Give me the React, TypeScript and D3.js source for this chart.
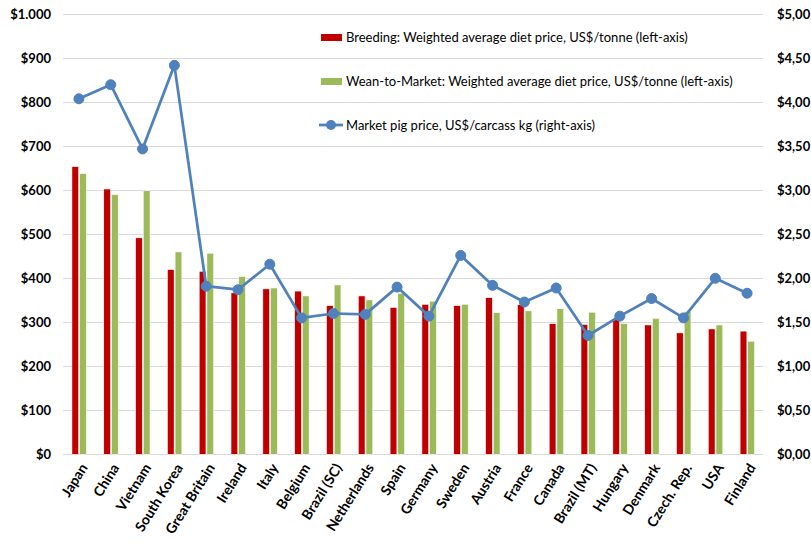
import React from "react";
import * as d3 from "d3";

const categories = ["Japan","China","Vietnam","South Korea","Great Britain","Ireland","Italy","Belgium","Brazil (SC)","Netherlands","Spain","Germany","Sweden","Austria","France","Canada","Brazil (MT)","Hungary","Denmark","Czech. Rep.","USA","Finland"];
const breeding = [654,603,492,420,416,367,376,371,338,360,334,341,338,356,340,297,295,307,294,276,285,280];
const weanToMarket = [638,590,599,460,457,404,378,360,385,351,366,348,341,322,326,331,323,297,309,324,294,257];
const marketPig = [4.04,4.20,3.47,4.42,1.91,1.87,2.16,1.55,1.60,1.59,1.90,1.57,2.26,1.92,1.73,1.89,1.35,1.57,1.77,1.55,2.00,1.83];
const leftTicks = [0,100,200,300,400,500,600,700,800,900,1000];
const rightTicks = [0,0.5,1,1.5,2,2.5,3,3.5,4,4.5,5];
const legendLabels = [
  "Breeding: Weighted average diet price, US$/tonne (left-axis)",
  "Wean-to-Market: Weighted average diet price, US$/tonne (left-axis)",
  "Market pig price, US$/carcass kg (right-axis)",
];

const W = 811, H = 548;
const RED = "#C00000", GREEN = "#9BBB59", BLUE = "#4F81BD";
const FONT = "Lato, 'Open Sans', sans-serif";

export default function App() {
  const x = d3.scaleBand<string>().domain(categories).range([63, 763]).padding(0);
  const xs = d3.scaleBand<string>().domain(["b", "w"]).range([x.bandwidth() / 2 - 7, x.bandwidth() / 2 + 7.5]).paddingInner(0.12);
  const yL = d3.scaleLinear().domain([0, 1000]).range([454.3, 14.3]);
  const yR = d3.scaleLinear().domain([0, 5]).range([454.3, 14.3]);
  const fmtL = (v: number) => "$" + (v >= 1000 ? d3.format(",")(v).replace(",", ".") : String(v));
  const fmtR = (v: number) => "$" + v.toFixed(2).replace(".", ",");
  const cx = (c: string) => (x(c) as number) + x.bandwidth() / 2;
  const line = d3.line<number>().x((_, i) => cx(categories[i])).y((d) => yR(d));

  return (
    <svg width={W} height={H} style={{ position: "absolute", left: 0, top: 0, background: "#fff" }} fontFamily={FONT}>
      {leftTicks.map((t) => (
        <line key={"g" + t} x1={63} x2={763} y1={Math.round(yL(t)) + 0.5} y2={Math.round(yL(t)) + 0.5} stroke="#d9d9d9" strokeWidth={1} />
      ))}
      {leftTicks.map((t) => (
        <text key={"l" + t} x={51} y={yL(t)} dy="0.35em" textAnchor="end" fontSize={13} fontWeight="bold" fill="#000">{fmtL(t)}</text>
      ))}
      {rightTicks.map((t) => (
        <text key={"r" + t} x={777} y={yR(t)} dy="0.35em" textAnchor="start" fontSize={13} fontWeight="bold" fill="#000">{fmtR(t)}</text>
      ))}
      {categories.map((c, i) => (
        <g key={c}>
          <rect x={(x(c) as number) + (xs("b") as number)} y={yL(breeding[i])} width={xs.bandwidth()} height={yL(0) - yL(breeding[i])} fill={RED} stroke="#fff" strokeWidth={0.6} />
          <rect x={(x(c) as number) + (xs("w") as number)} y={yL(weanToMarket[i])} width={xs.bandwidth()} height={yL(0) - yL(weanToMarket[i])} fill={GREEN} stroke="#fff" strokeWidth={0.6} />
        </g>
      ))}
      <path d={line(marketPig) || ""} fill="none" stroke={BLUE} strokeWidth={2.75} strokeLinejoin="round" />
      {marketPig.map((v, i) => (
        <circle key={"m" + i} cx={cx(categories[i])} cy={yR(v)} r={5} fill={BLUE} stroke={BLUE} />
      ))}
      {categories.map((c) => (
        <text key={"x" + c} transform={`translate(${cx(c) + 5},${465}) rotate(-58)`} textAnchor="end" dy="0.35em" fontSize={14} fontWeight="bold" fill="#000">{c}</text>
      ))}
      {/* legend */}
      <rect x={321} y={34} width={21} height={7} fill={RED} />
      <text x={346} y={37.7} dy="0.35em" fontSize={13} fill="#000">{legendLabels[0]}</text>
      <rect x={321} y={78} width={21} height={7} fill={GREEN} />
      <text x={346} y={81} dy="0.35em" fontSize={13} fill="#000">{legendLabels[1]}</text>
      <line x1={319} x2={343} y1={125} y2={125} stroke={BLUE} strokeWidth={2.75} />
      <circle cx={331} cy={125} r={5} fill={BLUE} />
      <text x={346} y={125} dy="0.35em" fontSize={13} fill="#000">{legendLabels[2]}</text>
    </svg>
  );
}
